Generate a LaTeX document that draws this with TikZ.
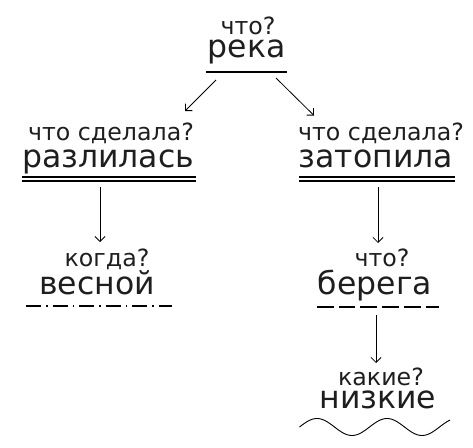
\documentclass[tikz,border=0pt]{standalone}
\usepackage{fontspec}
\setmainfont{DejaVu Sans}
\usetikzlibrary{arrows.meta}
\definecolor{txt}{HTML}{1E1E1E}
\tikzset{
  q/.style={anchor=base,inner sep=0pt,text=txt,text depth=0pt,font=\fontsize{23.7}{25}\selectfont},
  w/.style={anchor=base,inner sep=0pt,text=txt,text height=0.56em,font=\fontsize{31.5}{33}\selectfont},
  uline/.style={line width=1.2pt},
  arr/.style={line width=0.8pt,-{Straight Barb[length=5pt,width=10pt,line width=0.8pt]}}
}
\begin{document}
\begin{tikzpicture}[x=1pt,y=-1pt]
\useasboundingbox (0,0) rectangle (473,447);
% texts
\node[q] (q1) at (248,34) {что?};
\node[w] (w1) at (246.5,57.5) {река};
\node[q] (q2) at (111,140) {что сделала?};
\node[w] (w2) at (108,167) {разлилась};
\node[q] (q3) at (381,140) {что сделала?};
\node[w] (w3) at (376,167) {затопила};
\node[q] (q4) at (107,266) {когда?};
\node[w] (w4) at (97,294) {весной};
\node[q] (q5) at (382,266) {что?};
\node[w] (w5) at (375,294) {берега};
\node[q] (q6) at (381,385) {какие?};
\node[w] (w6) at (378,408) {низкие};
% underlines
\draw[uline] (206,72) -- (287,72);
\draw[uline] (22,177) -- (196,177);
\draw[uline] (22,181) -- (196,181);
\draw[uline] (299,177) -- (455,177);
\draw[uline] (299,181) -- (455,181);
\draw[uline,dash pattern=on 15pt off 5pt on 1.5pt off 5pt] (26,306) -- (172,306);
\draw[uline,dash pattern=on 16.7pt off 5pt] (317,307) -- (439,307);
\draw[line width=0.9pt,domain=299.5:450,samples=120,smooth] plot (\x,{427-8.5*sin(5.142857*(\x-299.5))});
% connectors
\coordinate (a1s) at (216,80);
\coordinate (a1e) at (185,111);
\coordinate (a2s) at (276,78);
\coordinate (a2e) at (314,115.5);
\coordinate (a3s) at (100,187);
\coordinate (a3e) at (100,242);
\coordinate (a4s) at (378,187);
\coordinate (a4e) at (378,243);
\coordinate (a5s) at (376,315);
\coordinate (a5e) at (376,363);
\draw[arr] (a1s) -- (a1e);
\draw[arr] (a2s) -- (a2e);
\draw[arr] (a3s) -- (a3e);
\draw[arr] (a4s) -- (a4e);
\draw[arr] (a5s) -- (a5e);
\end{tikzpicture}
\end{document}
